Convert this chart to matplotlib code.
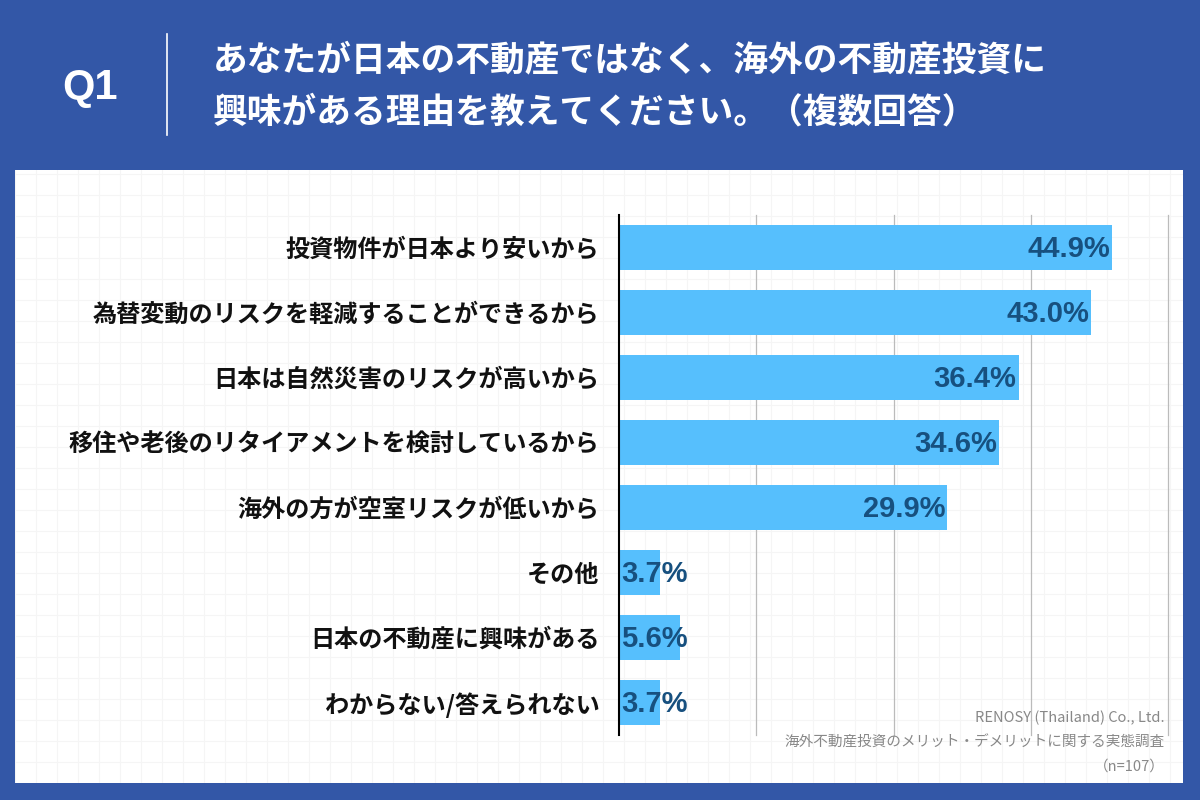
import numpy as np
import matplotlib
matplotlib.use('Agg')
import matplotlib.pyplot as plt

plt.rcParams['font.family'] = ['Noto Sans CJK JP', 'DejaVu Sans']

# data
categories = ['投資物件が日本より安いから',
              '為替変動のリスクを軽減することができるから',
              '日本は自然災害のリスクが高いから',
              '移住や老後のリタイアメントを検討しているから',
              '海外の方が空室リスクが低いから',
              'その他',
              '日本の不動産に興味がある',
              'わからない/答えられない']
values = [44.9, 43.0, 36.4, 34.6, 29.9, 3.7, 5.6, 3.7]
title_lines = ['あなたが日本の不動産ではなく、海外の不動産投資に',
               '興味がある理由を教えてください。（複数回答）']
source_lines = ['RENOSY (Thailand) Co., Ltd.',
                '海外不動産投資のメリット・デメリットに関する実態調査',
                '（n=107）']

blue = '#3357A7'
bar_color = '#56BFFD'
val_color = '#17507F'

fig = plt.figure(figsize=(12, 8), dpi=100)
fig.patch.set_facecolor(blue)

# white panel with faint grid
bg = fig.add_axes([15/1200, 17/800, 1168/1200, 613/800])
bg.set_facecolor('white')
bg.set_xlim(0, 1168)
bg.set_ylim(0, 613)
bg.set_xticks(np.arange(0, 1168, 21))
bg.set_yticks(np.arange(0, 613, 21))
bg.grid(True, color='#F5F5F5', linewidth=0.8)
bg.tick_params(length=0, labelbottom=False, labelleft=False)
for s in bg.spines.values():
    s.set_visible(False)

# header
fig.text(90/1200, 1 - 88/800, 'Q1', color='white', fontsize=30, fontweight='bold',
         family=['Liberation Sans'], ha='center', va='center')
fig.add_artist(plt.Line2D([167/1200, 167/1200], [1 - 34/800, 1 - 135/800],
                          color='white', linewidth=1.2))
fig.text(213/1200, 1 - 60/800, title_lines[0], color='white', fontsize=25,
         fontweight='bold', ha='left', va='center')
fig.text(213/1200, 1 - 112/800, title_lines[1], color='white', fontsize=25,
         fontweight='bold', ha='left', va='center')

# main chart
ax = fig.add_axes([619/1200, 65/800, 549/1200, 520/800])
ax.patch.set_alpha(0)
y = np.arange(len(categories))
ax.barh(y, values, height=0.7, color=bar_color, zorder=2)
ax.set_xlim(0, 50)
ax.set_ylim(len(categories) - 0.5, -0.5)
ax.set_xticks([12.5, 25, 37.5, 50])
ax.grid(axis='x', color='#BBBBBB', linewidth=0.9, zorder=0)
for gl in ax.get_xgridlines():
    gl.set_clip_on(False)
ax.tick_params(axis='x', length=0, labelbottom=False)
ax.set_yticks(y)
ax.set_yticklabels(categories, fontsize=17.4, fontweight='bold', color='#111111')
ax.tick_params(axis='y', length=0, pad=14)
for s in ['top', 'right', 'bottom']:
    ax.spines[s].set_visible(False)
ax.spines['left'].set_color('black')
ax.spines['left'].set_linewidth(1.5)
ax.spines['left'].set_zorder(3)

for i, v in enumerate(values):
    if v >= 10:
        ax.text(v - 0.2, i + 0.03, f'{v:.1f}%', ha='right', va='center', fontsize=21,
                fontweight='bold', color=val_color, family=['Liberation Sans'], zorder=4)
    else:
        ax.text(0.2, i + 0.03, f'{v:.1f}%', ha='left', va='center', fontsize=21,
                fontweight='bold', color=val_color, family=['Liberation Sans'], zorder=4)

# source
for line, yy in zip(source_lines, [718, 743, 767]):
    fig.text(1165/1200, 1 - yy/800, line, color='#888888', fontsize=10.5,
             ha='right', va='center')

fig.savefig('out.png', dpi=100, facecolor=fig.get_facecolor())
